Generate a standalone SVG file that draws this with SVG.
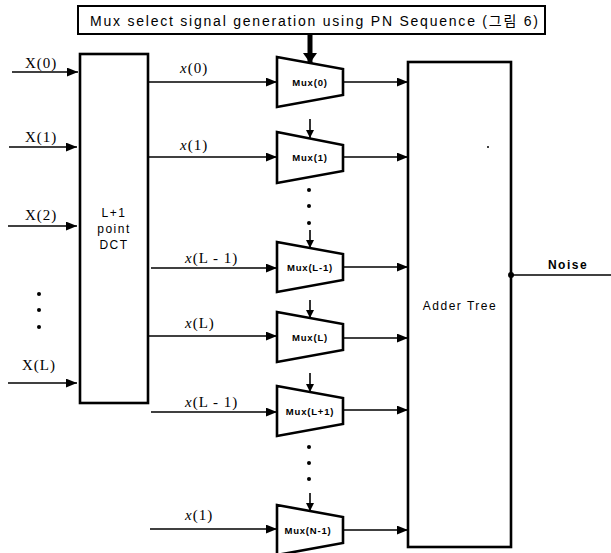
<svg xmlns="http://www.w3.org/2000/svg" width="611" height="553" viewBox="0 0 611 553">
<defs>
<marker id="ah" viewBox="0 0 10 8" refX="10" refY="4" markerWidth="11" markerHeight="9" markerUnits="userSpaceOnUse" orient="auto"><path d="M0,0 L10,4 L0,8 z" fill="#000"/></marker>
<marker id="ahs" viewBox="0 0 8 8" refX="8" refY="4" markerWidth="8" markerHeight="8" markerUnits="userSpaceOnUse" orient="auto"><path d="M0,0 L8,4 L0,8 z" fill="#000"/></marker>
<marker id="ahb" viewBox="0 0 12 14" refX="10" refY="7" markerWidth="12" markerHeight="14" markerUnits="userSpaceOnUse" orient="auto"><path d="M0,0 L10,7 L0,14 z" fill="#000"/></marker>
</defs>
<style>
.box{fill:#fff;stroke:#000;stroke-width:2.6}
.mux{fill:#fff;stroke:#000;stroke-width:2.6;stroke-linejoin:miter}
.ln{stroke:#000;stroke-width:1.6;fill:none}
.sans{font-family:"Liberation Sans",Arial,sans-serif;fill:#000}
.mt{font-family:"Liberation Sans",Arial,sans-serif;font-weight:bold;font-size:9.5px;letter-spacing:0.8px;text-anchor:middle;fill:#000}
.X{font-family:"Liberation Serif","Times New Roman",serif;font-size:15px;letter-spacing:1px;fill:#000}
.xi{font-family:"Liberation Serif","Times New Roman",serif;font-size:15px;letter-spacing:1px;fill:#000}
.dot{fill:#000}
</style>
<rect width="611" height="553" fill="#fff"/>

<g id="pn-select">
<rect x="78" y="6" width="467" height="28" fill="#fff" stroke="#000" stroke-width="2"/>
<text class="sans" x="90" y="26" font-size="14" textLength="448" lengthAdjust="spacing">Mux select signal generation using PN Sequence (<tspan font-family="'Noto Sans CJK KR',sans-serif">그림</tspan> 6)</text>
</g>

<g id="dct">
<rect class="box" x="80" y="54" width="68" height="349"/>
<text class="sans" x="114" y="217" font-size="12" letter-spacing="1.5" text-anchor="middle">L+1</text>
<text class="sans" x="114" y="233" font-size="12" letter-spacing="1.5" text-anchor="middle">point</text>
<text class="sans" x="114" y="249" font-size="12" letter-spacing="1.5" text-anchor="middle">DCT</text>
</g>

<g id="adder">
<rect class="box" x="408" y="62" width="103" height="485"/>
<text class="sans" x="460" y="310" font-size="12" letter-spacing="1.5" text-anchor="middle">Adder Tree</text>
</g>

<g id="mux0"><path class="mux" d="M277,57 L343,69 L343,95 L277,107 Z"/><text class="mt" x="310" y="86">Mux(0)</text></g>
<g id="mux1"><path class="mux" d="M277,132 L343,145 L343,171 L277,183 Z"/><text class="mt" x="310" y="161">Mux(1)</text></g>
<g id="muxLm1"><path class="mux" d="M277,242 L343,254 L343,280 L277,292 Z"/><text class="mt" x="310" y="271">Mux(L-1)</text></g>
<g id="muxL"><path class="mux" d="M277,312 L343,324 L343,350 L277,362 Z"/><text class="mt" x="310" y="341">Mux(L)</text></g>
<g id="muxLp1"><path class="mux" d="M277,386 L343,398 L343,424 L277,436 Z"/><text class="mt" x="310" y="415">Mux(L+1)</text></g>
<g id="muxNm1"><path class="mux" d="M277,505 L343,517 L343,543 L277,555 Z"/><text class="mt" x="308" y="534">Mux(N-1)</text></g>

<g id="labels">
<text class="X" x="25" y="68">X(0)</text>
<text class="X" x="25" y="142">X(1)</text>
<text class="X" x="25" y="220">X(2)</text>
<text class="X" x="22" y="370">X(L)</text>
<text class="xi" x="180" y="73"><tspan font-style="italic">x</tspan>(0)</text>
<text class="xi" x="180" y="150"><tspan font-style="italic">x</tspan>(1)</text>
<text class="xi" x="185" y="263"><tspan font-style="italic">x</tspan>(L - 1)</text>
<text class="xi" x="185" y="328"><tspan font-style="italic">x</tspan>(L)</text>
<text class="xi" x="185" y="407"><tspan font-style="italic">x</tspan>(L - 1)</text>
<text class="xi" x="185" y="520"><tspan font-style="italic">x</tspan>(1)</text>
<text class="sans" x="568" y="269" font-size="12" font-weight="bold" letter-spacing="1.5" text-anchor="middle">Noise</text>
</g>

<g id="connectors">
<line class="ln" x1="12" y1="72" x2="78" y2="72" marker-end="url(#ah)"/>
<line class="ln" x1="9" y1="147" x2="77" y2="147" marker-end="url(#ah)"/>
<line class="ln" x1="8" y1="226" x2="77" y2="226" marker-end="url(#ah)"/>
<line class="ln" x1="8" y1="383" x2="77" y2="383" marker-end="url(#ah)"/>

<line class="ln" x1="148" y1="82" x2="277" y2="82" marker-end="url(#ah)"/>
<line class="ln" x1="148" y1="157" x2="277" y2="157" marker-end="url(#ah)"/>
<line class="ln" x1="151" y1="268" x2="277" y2="268" marker-end="url(#ah)"/>
<line class="ln" x1="148" y1="336" x2="277" y2="336" marker-end="url(#ah)"/>
<line class="ln" x1="151" y1="412" x2="277" y2="412" marker-end="url(#ah)"/>
<line class="ln" x1="150" y1="529" x2="277" y2="529" marker-end="url(#ah)"/>

<line class="ln" x1="343" y1="82" x2="408" y2="82" marker-end="url(#ah)"/>
<line class="ln" x1="343" y1="157" x2="408" y2="157" marker-end="url(#ah)"/>
<line class="ln" x1="343" y1="267" x2="408" y2="267" marker-end="url(#ah)"/>
<line class="ln" x1="343" y1="338" x2="408" y2="338" marker-end="url(#ah)"/>
<line class="ln" x1="343" y1="410" x2="408" y2="410" marker-end="url(#ah)"/>
<line class="ln" x1="343" y1="530" x2="408" y2="530" marker-end="url(#ah)"/>

<line x1="310" y1="34" x2="310" y2="63" stroke="#000" stroke-width="5" marker-end="url(#ahb)"/>
<line class="ln" x1="310" y1="119" x2="310" y2="138" marker-end="url(#ahs)"/>
<line class="ln" x1="310" y1="230" x2="310" y2="248" marker-end="url(#ahs)"/>
<line class="ln" x1="310" y1="300" x2="310" y2="318" marker-end="url(#ahs)"/>
<line class="ln" x1="310" y1="373" x2="310" y2="392" marker-end="url(#ahs)"/>
<line class="ln" x1="310" y1="493" x2="310" y2="511" marker-end="url(#ahs)"/>

<line class="ln" x1="511" y1="275" x2="611" y2="275" stroke-width="1.2"/>
<circle class="dot" cx="511" cy="275" r="3"/>
</g>

<g id="ellipses">
<circle class="dot" cx="39" cy="294" r="2"/>
<circle class="dot" cx="39" cy="310" r="2"/>
<circle class="dot" cx="39" cy="327" r="2"/>
<circle class="dot" cx="309" cy="190" r="2"/>
<circle class="dot" cx="309" cy="206" r="2"/>
<circle class="dot" cx="309" cy="223" r="2"/>
<circle class="dot" cx="309" cy="447" r="2"/>
<circle class="dot" cx="309" cy="463" r="2"/>
<circle class="dot" cx="309" cy="479" r="2"/>
<circle class="dot" cx="488" cy="147" r="1"/>
</g>
</svg>
